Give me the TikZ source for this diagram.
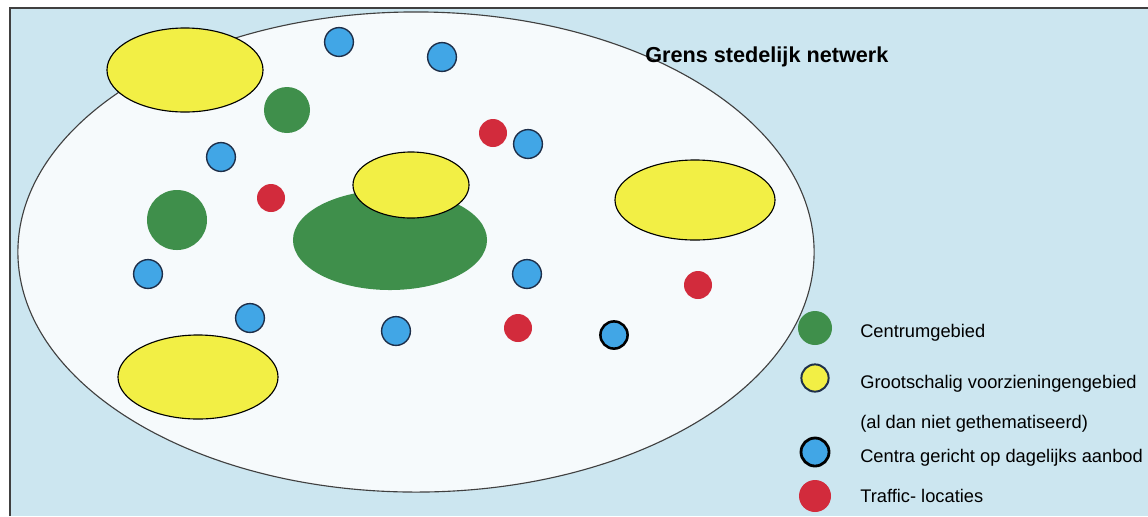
\documentclass[tikz,border=0pt]{standalone}
\usepackage{fontspec}
\setmainfont{Liberation Sans}
\usepackage{tikz}
\usetikzlibrary{shapes.geometric}
\definecolor{mapblue}{HTML}{CCE6F0}
\definecolor{netwhite}{HTML}{F6FAFC}
\definecolor{zoneyellow}{HTML}{F2EF45}
\definecolor{zonegreen}{HTML}{3F8F4B}
\definecolor{dotblue}{HTML}{41A6E6}
\definecolor{dotnavy}{HTML}{1E2F4A}
\definecolor{dotred}{HTML}{D22B3C}
\tikzset{
  netshape/.style={ellipse, draw=black!75, fill=netwhite, line width=0.8pt,
    inner sep=0pt, minimum width=19.9cm, minimum height=12cm},
  bigzone/.style={ellipse, draw=black, fill=zoneyellow, line width=0.8pt,
    inner sep=0pt},
  centrum/.style={circle, fill=zonegreen, inner sep=0pt},
  daily/.style={circle, draw=dotnavy, fill=dotblue, line width=1pt,
    inner sep=0pt, minimum size=0.72cm},
  traffic/.style={circle, fill=dotred, inner sep=0pt, minimum size=0.7cm},
  legtext/.style={anchor=west, inner sep=0pt, font=\fontsize{13}{15}\selectfont},
}

\begin{document}
\begin{tikzpicture}[x=0.025cm, y=-0.025cm]
\useasboundingbox (0,0) rectangle (1148,516);
% map frame
\fill[white] (0,0) rectangle (1148,516);
\fill[mapblue] (10,8) rectangle (1148,516);
\draw[black!75, line width=0.8pt] (10,516) -- (10,8) -- (1148,8);
% the urban network
\node[netshape] (net) at (416,252) {};
\node[anchor=west, inner sep=0pt, font=\fontsize{15.4}{18}\selectfont\bfseries]
  (grens) at (645,57) {Grens stedelijk netwerk};
% centre areas
\node[centrum, minimum width=4.85cm, minimum height=2.5cm, ellipse] (cmain) at (390,240) {};
\node[centrum, minimum size=1.15cm] (c1) at (287,110) {};
\node[centrum, minimum size=1.5cm] (c2) at (177,220) {};
% large-scale areas
\node[bigzone, minimum width=3.9cm, minimum height=2.1cm] (y1) at (185,70) {};
\node[bigzone, minimum width=4.0cm, minimum height=2.1cm] (y2) at (198,377) {};
\node[bigzone, minimum width=2.9cm, minimum height=1.65cm] (y3) at (411,185) {};
\node[bigzone, minimum width=4.0cm, minimum height=2.0cm] (y4) at (695,200) {};
% daily centres
\node[daily] (d1) at (339,42) {};
\node[daily] (d2) at (442,57) {};
\node[daily] (d3) at (221,157) {};
\node[daily] (d4) at (528,144) {};
\node[daily] (d5) at (148,274) {};
\node[daily] (d6) at (250,318) {};
\node[daily] (d7) at (527,274) {};
\node[daily] (d8) at (396,331) {};
\node[daily, draw=black, line width=1.8pt, minimum size=0.68cm] (d9) at (614,335) {};
% traffic locations
\node[traffic] (t1) at (493,133) {};
\node[traffic] (t2) at (271,198) {};
\node[traffic] (t3) at (698,285) {};
\node[traffic] (t4) at (518,328) {};
% legend
\node[centrum, minimum size=0.85cm] (lgreen) at (815,328) {};
\node[legtext] (lt1) at (860,333) {Centrumgebied};
\node[bigzone, draw=dotnavy, line width=1.4pt, minimum size=0.68cm, circle] (lyellow) at (815,378) {};
\node[legtext] (lt2) at (860,384) {Grootschalig voorzieningengebied};
\node[legtext] (lt3) at (860,424) {(al dan niet gethematiseerd)};
\node[daily, draw=black, line width=2pt, minimum size=0.7cm] (lblue) at (815,452) {};
\node[legtext] (lt4) at (860,458) {Centra gericht op dagelijks aanbod};
\node[traffic, minimum size=0.8cm] (lred) at (815,496) {};
\node[legtext] (lt5) at (860,496) {Traffic- locaties};
\end{tikzpicture}
\end{document}
